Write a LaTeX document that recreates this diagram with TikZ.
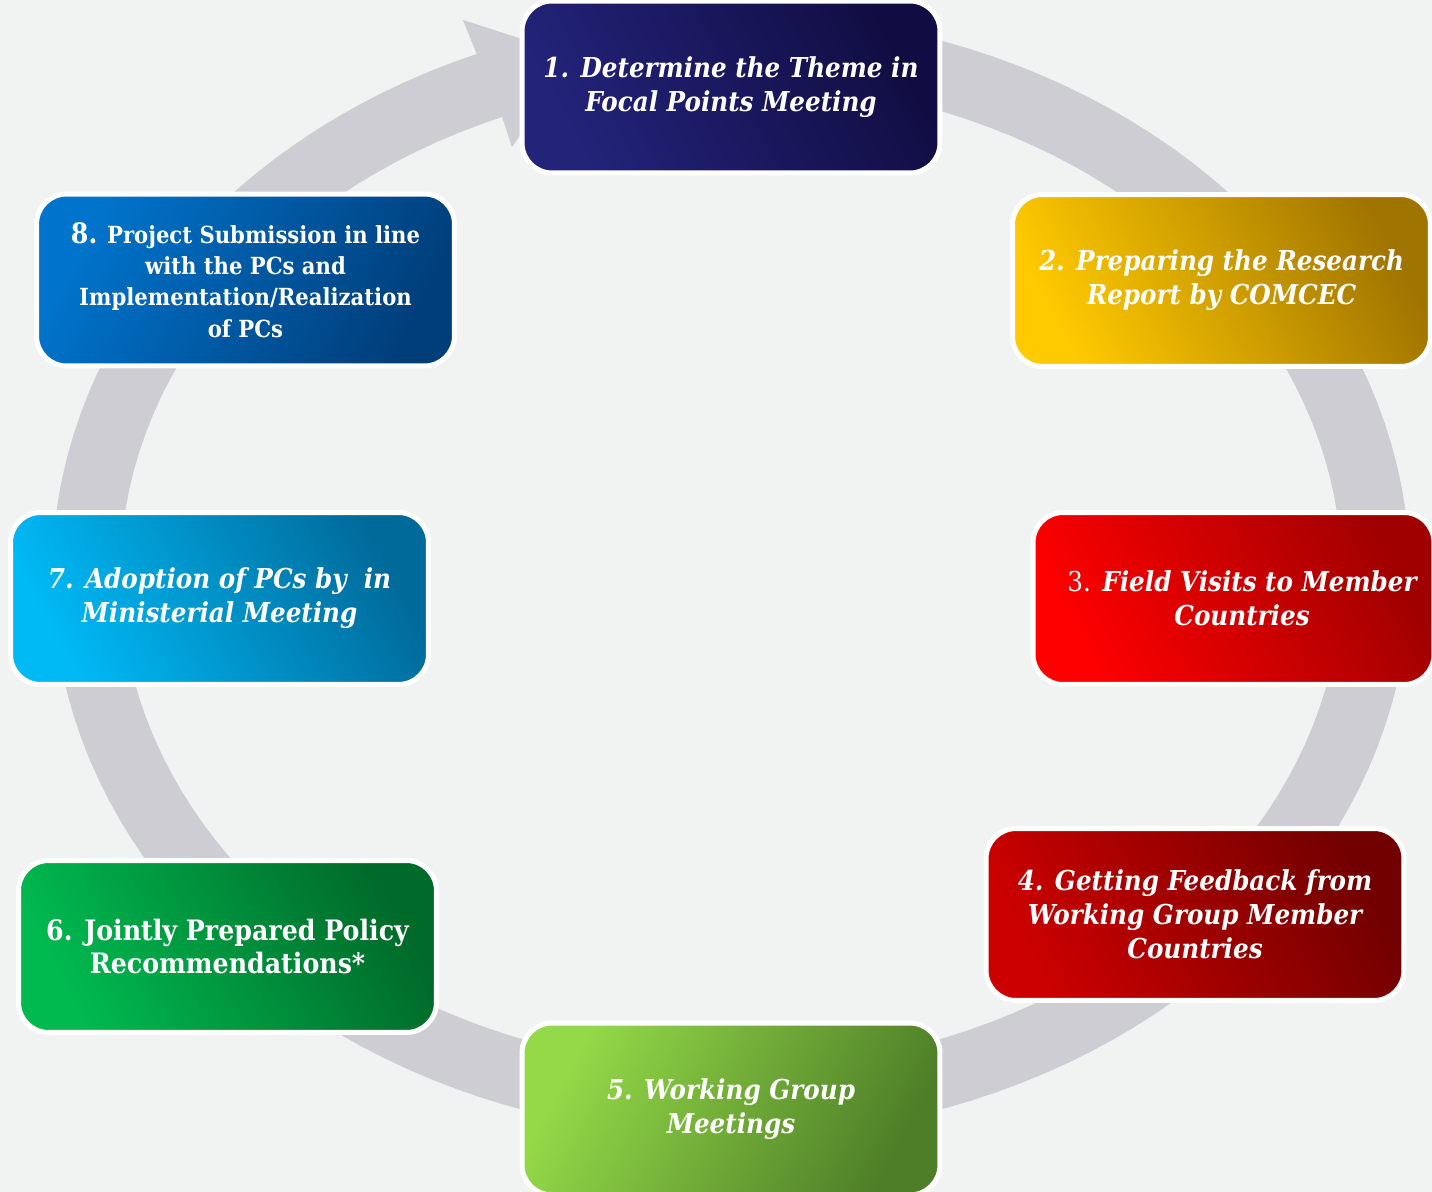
\documentclass[tikz,border=0pt]{standalone}
\usepackage{fontspec}
\setmainfont{DejaVu Serif Condensed}
\definecolor{bgc}{HTML}{F1F2F2}
\definecolor{ringc}{HTML}{CDCDD3}
\definecolor{c1a}{HTML}{23237A}\definecolor{c1b}{HTML}{110D42}
\definecolor{c2a}{HTML}{FFCA00}\definecolor{c2b}{HTML}{A07400}
\definecolor{c3a}{HTML}{FF0000}\definecolor{c3b}{HTML}{A00000}
\definecolor{c4a}{HTML}{CC0000}\definecolor{c4b}{HTML}{720000}
\definecolor{c5a}{HTML}{94DA48}\definecolor{c5b}{HTML}{4E7E28}
\definecolor{c6a}{HTML}{00BA50}\definecolor{c6b}{HTML}{006A2A}
\definecolor{c7a}{HTML}{00BAF6}\definecolor{c7b}{HTML}{006A9A}
\definecolor{c8a}{HTML}{0074CC}\definecolor{c8b}{HTML}{003E7A}
\tikzset{
  stepbox/.style={rounded corners=0.6cm, draw=white, line width=0.1cm,
    minimum width=8.36cm, minimum height=3.44cm, align=center, text=white,
    inner sep=0pt},
  upshade/.style 2 args={top color=#2, bottom color=#1, shading angle=-62},
  downshade/.style 2 args={top color=#2, bottom color=#1, shading angle=-118},
  itl/.style={font=\fontsize{15.6}{19.3}\selectfont\bfseries\itshape},
  upr/.style={font=\fontsize{16}{19.3}\selectfont\bfseries},
}
\begin{document}
\begin{tikzpicture}[x=0.02cm,y=-0.02cm]
\useasboundingbox (0,0) rectangle (1432,1192);
\fill[bgc] (0,0) rectangle (1432,1192);
% ring with arrow head
\fill[ringc] plot[domain=-85:248,samples=150] ({731+679*cos(\x)},{575+562*sin(\x)})
  -- (463,20) -- (575,56) -- (512,147)
  -- plot[domain=248:-85,samples=150] ({731+611*cos(\x)},{575+494*sin(\x)}) -- cycle;
% boxes
\node[stepbox, itl, upshade={c1a}{c1b}] (b1) at (731,87) {1. Determine the Theme in\\Focal Points Meeting};
\node[stepbox, itl, upshade={c2a}{c2b}] (b2) at (1221.5,280.5) {2. Preparing the Research\\Report by COMCEC};
\node[stepbox, upshade={c3a}{c3b}, minimum width=8.02cm] (b3) at (1233.5,598.5) {};
\node[itl, text=white, align=center, inner sep=0pt] (t3) at (1242,598) {{\mdseries\upshape 3.} Field Visits to Member\\Countries};
\node[stepbox, itl, upshade={c4a}{c4b}] (b4) at (1195,914.5) {4. Getting Feedback from\\Working Group Member\\Countries};
\node[stepbox, itl, downshade={c5a}{c5b}] (b5) at (731,1109) {5. Working Group\\Meetings};
\node[stepbox, upr, upshade={c6a}{c6b}] (b6) at (227.5,946.5) {6. Jointly Prepared Policy\\Recommendations*};
\node[stepbox, itl, upshade={c7a}{c7b}] (b7) at (219.5,598.5) {7. Adoption of PCs by\ \ in\\Ministerial Meeting};
\node[stepbox, font=\fontsize{13.4}{17.9}\selectfont\bfseries, downshade={c8a}{c8b}] (b8) at (245.5,280) {{\fontsize{16}{17.9}\selectfont 8.} Project Submission in line\\with the PCs and\\Implementation/Realization\\of PCs};
\end{tikzpicture}
\end{document}
